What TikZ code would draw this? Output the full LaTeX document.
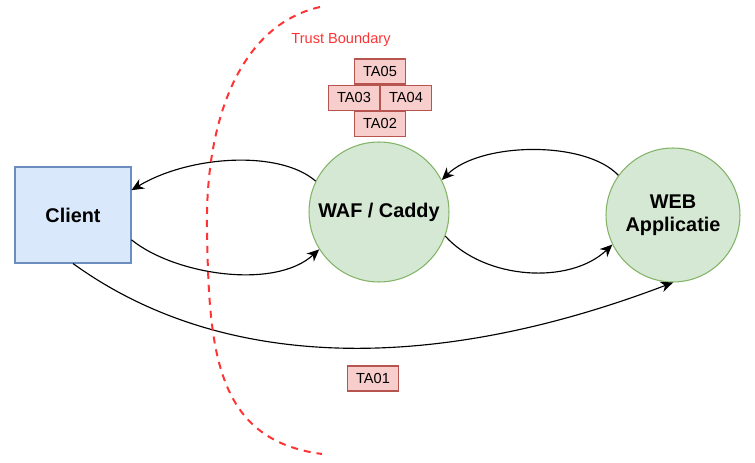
\documentclass[tikz,border=0pt]{standalone}
\usepackage{fontspec}
\setmainfont{Liberation Sans}
\usepackage{xcolor}
\usepackage{tikz}
\usetikzlibrary{arrows.meta}
\definecolor{clientfill}{HTML}{DAE8FC}
\definecolor{clientline}{HTML}{6C8EBF}
\definecolor{procfill}{HTML}{D5E8D4}
\definecolor{procline}{HTML}{82B366}
\definecolor{tafill}{HTML}{F8CECC}
\definecolor{taline}{HTML}{B85450}
\definecolor{trustred}{HTML}{FF3333}

\begin{document}
\begin{tikzpicture}[x=0.02cm,y=-0.02cm,font=\fontsize{8.3}{10}\selectfont,
  entity/.style={draw=clientline,fill=clientfill,line width=0.6pt,minimum width=2.32cm,minimum height=1.92cm,font=\fontsize{11.3}{13}\selectfont\bfseries},
  proc/.style={circle,draw=procline,fill=procfill,line width=0.6pt,inner sep=0pt,font=\fontsize{11.3}{13}\selectfont\bfseries,align=center},
  threat/.style={draw=taline,fill=tafill,line width=0.6pt,minimum width=1.02cm,minimum height=0.5cm,inner sep=0pt},
  flow/.style={-{Stealth[length=7pt,width=6.2pt,inset=2.2pt]},line width=0.65pt}]
\useasboundingbox (0,0) rectangle (755,463);
\node[entity] (client) at (73,215) {Client};
\node[proc,minimum size=2.8cm] (waf) at (379,212) {WAF / Caddy};
\node[proc,minimum size=2.68cm] (webapp) at (673,215) {WEB\\Applicatie};
\node[text=trustred] (boundary) at (341,40) {Trust Boundary};
\node[threat] (ta05) at (380,71.5) {TA05};
\node[threat,anchor=north east] (ta03) at (ta05.south) {TA03};
\node[threat,anchor=north west] (ta04) at (ta05.south) {TA04};
\node[threat,anchor=north] (ta02) at (ta03.south east) {TA02};
\node[threat] (ta01) at (373,378.5) {TA01};
\draw[flow] (waf.154) .. controls (280,150) and (190,155) .. (client.23);
\draw[flow] (client.-23) .. controls (175,275) and (275,290) .. (waf.212);
\draw[flow] (webapp.144) .. controls (585,140) and (480,142) .. (waf.27);
\draw[flow] (waf.-20) .. controls (485,280) and (570,285) .. (webapp.206);
\draw[flow] (client.south) .. controls (220,370) and (430,375) .. (webapp.south);
\draw[trustred,line width=1.13pt,dash pattern=on 4pt off 3.4pt]
  (320,7) .. controls (240,25) and (205,120) .. (207,230)
  .. controls (209,350) and (215,440) .. (322,454);
\end{tikzpicture}
\end{document}
